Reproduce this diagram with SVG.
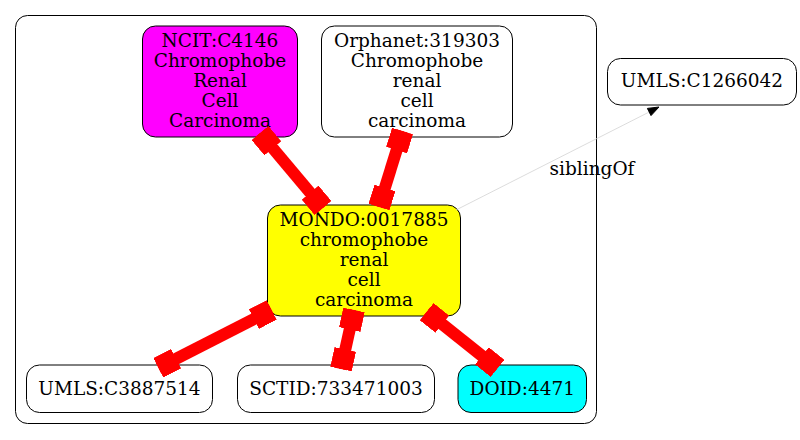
<svg xmlns="http://www.w3.org/2000/svg" width="800" height="440" viewBox="0 0 800 440">
  <style>
    .node { stroke: #000; stroke-width: 1; }
    .lbl { font-family: "DejaVu Serif", serif; font-size: 18.5px; fill: #000; text-anchor: middle; }
    .xref { fill: none; stroke: #ff0000; stroke-width: 12; }
    .sib { fill: none; stroke: #d3d3d3; stroke-width: 0.8; }
  </style>
  <defs>
    <marker id="box" markerUnits="userSpaceOnUse" markerWidth="20" markerHeight="22" viewBox="0 0 20 22" refX="20" refY="11" orient="auto-start-reverse">
      <rect x="0" y="0" width="20" height="22" fill="#ff0000"/>
    </marker>
  </defs>
  <rect id="cluster" x="15.5" y="15.5" width="581" height="408" rx="12" ry="12" fill="#fff" stroke="#000" stroke-width="1"/>

  <g id="NCIT_C4146">
    <rect class="node" x="142.5" y="26" width="155" height="111" rx="13" ry="13" fill="#ff00ff"/>
    <text class="lbl" x="220" y="46.5">NCIT:C4146<tspan x="220" dy="20">Chromophobe</tspan><tspan x="220" dy="20">Renal</tspan><tspan x="220" dy="20">Cell</tspan><tspan x="220" dy="20">Carcinoma</tspan></text>
  </g>
  <g id="Orphanet_319303">
    <rect class="node" x="321.5" y="26" width="191" height="111" rx="13" ry="13" fill="#fff"/>
    <text class="lbl" x="417" y="46.5">Orphanet:319303<tspan x="417" dy="20">Chromophobe</tspan><tspan x="417" dy="20">renal</tspan><tspan x="417" dy="20">cell</tspan><tspan x="417" dy="20">carcinoma</tspan></text>
  </g>
  <g id="UMLS_C1266042">
    <rect class="node" x="607.5" y="58.5" width="189" height="46.5" rx="13" ry="13" fill="#fff"/>
    <text class="lbl" x="702" y="87">UMLS:C1266042</text>
  </g>
  <g id="MONDO_0017885">
    <rect class="node" x="267.5" y="205" width="193" height="111" rx="13" ry="13" fill="#ffff00"/>
    <text class="lbl" x="364" y="225.5">MONDO:0017885<tspan x="364" dy="20">chromophobe</tspan><tspan x="364" dy="20">renal</tspan><tspan x="364" dy="20">cell</tspan><tspan x="364" dy="20">carcinoma</tspan></text>
  </g>
  <g id="UMLS_C3887514">
    <rect class="node" x="26.5" y="365" width="186" height="47.5" rx="13" ry="13" fill="#fff"/>
    <text class="lbl" x="119.5" y="394.5">UMLS:C3887514</text>
  </g>
  <g id="SCTID_733471003">
    <rect class="node" x="237.5" y="365" width="197" height="47.5" rx="13" ry="13" fill="#fff"/>
    <text class="lbl" x="336" y="394.5">SCTID:733471003</text>
  </g>
  <g id="DOID_4471">
    <rect class="node" x="458" y="365" width="128.5" height="47.5" rx="13" ry="13" fill="#00ffff"/>
    <text class="lbl" x="522.3" y="394.5">DOID:4471</text>
  </g>

  <g id="connectors">
    <path class="xref" d="M260,133 L323,208" marker-start="url(#box)" marker-end="url(#box)"/>
    <path class="xref" d="M402.5,131 L379,207" marker-start="url(#box)" marker-end="url(#box)"/>
    <path class="xref" d="M271.7,310 L158.3,367.8" marker-start="url(#box)" marker-end="url(#box)"/>
    <path class="xref" d="M354,310 L341,369" marker-start="url(#box)" marker-end="url(#box)"/>
    <path class="xref" d="M426.7,311.7 L497.5,368.3" marker-start="url(#box)" marker-end="url(#box)"/>
    <g id="siblingOf">
      <path class="sib" d="M456,210 L649.2,112"/>
      <polygon points="659,107 651,115.6 647.4,108.4" fill="#000" stroke="#000" stroke-width="1"/>
      <text class="lbl" x="592" y="175">siblingOf</text>
    </g>
  </g>
</svg>
